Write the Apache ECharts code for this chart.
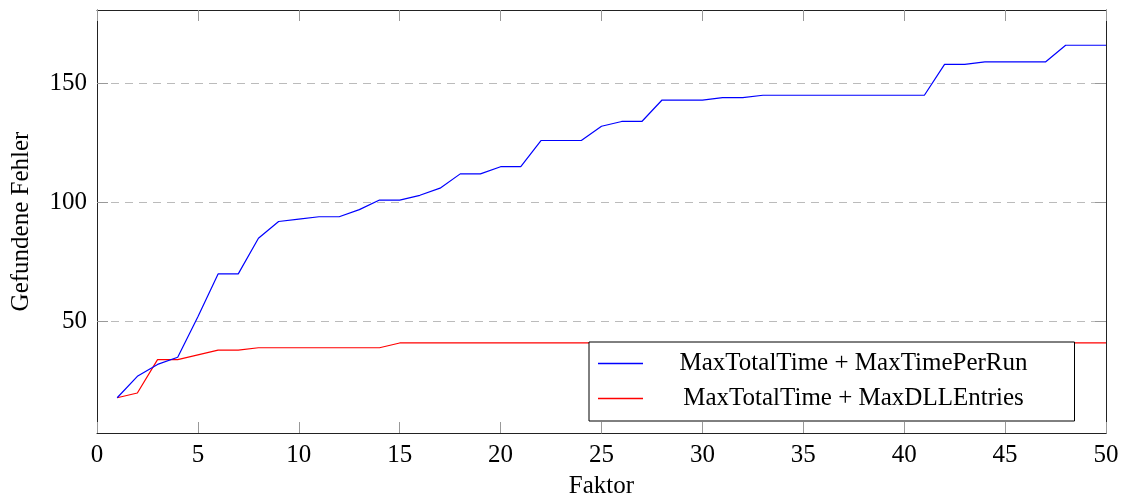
<!DOCTYPE html>
<html>
<head>
<meta charset="utf-8">
<script src="https://cdn.jsdelivr.net/npm/echarts@6/dist/echarts.min.js"></script>
<style>
  html, body { margin: 0; padding: 0; background: #fff; }
  #chart { width: 1123px; height: 502px; }
</style>
</head>
<body>
<div id="chart"></div>
<script>
// Data
const faktor = [1,2,3,4,5,6,7,8,9,10,11,12,13,14,15,16,17,18,19,20,21,22,23,24,25,26,27,28,29,30,31,32,33,34,35,36,37,38,39,40,41,42,43,44,45,46,47,48,49,50];
const timePerRun = [18,27,32,35,52,70,70,85,92,93,94,94,97,101,101,103,106,112,112,115,115,126,126,126,132,134,134,143,143,143,144,144,145,145,145,145,145,145,145,145,145,158,158,159,159,159,159,166,166,166];
const dllEntries = [18,20,34,34,36,38,38,39,39,39,39,39,39,39,41,41,41,41,41,41,41,41,41,41,41,41,41,41,41,41,41,41,41,41,41,41,41,41,41,41,41,41,41,41,41,41,41,41,41,41];
const yTicks = [50, 100, 150];
const seriesNames = ["MaxTotalTime + MaxTimePerRun", "MaxTotalTime + MaxDLLEntries"];

const FONT = "Liberation Serif";

// pgfplots style: enlarge y limits by 10% of the data range
const allY = timePerRun.concat(dllEntries);
const yLo = Math.min(...allY), yHi = Math.max(...allY);
const yMin = yLo - (yHi - yLo) * 0.1;
const yMax = yHi + (yHi - yLo) * 0.1;

function pairs(ys) {
  return faktor.map((x, i) => [x, ys[i]]);
}

const chart = echarts.init(document.getElementById("chart"), null, { renderer: "canvas" });

const tickStyle = { show: true, inside: true, length: 11, lineStyle: { color: "#999", width: 1 } };
const frameLine = { show: true, onZero: false, lineStyle: { color: "#222", width: 1 } };

chart.setOption({
  animation: false,
  grid: { left: 97, right: 17, top: 10, bottom: 69, outerBoundsMode: "none", containLabel: false },
  legend: {
    orient: "vertical",
    left: 589,
    top: 342,
    padding: [9, 47, 10, 9],
    itemGap: 10,
    itemWidth: 45,
    itemHeight: 1.5,
    icon: "rect",
    backgroundColor: "#fff",
    borderColor: "#000",
    borderWidth: 1,
    formatter: (name) => "{c|" + name + "}",
    textStyle: {
      fontFamily: FONT, fontSize: 25, color: "#000",
      rich: { c: { fontFamily: FONT, fontSize: 25, color: "#000", width: 411, align: "center" } }
    },
    data: seriesNames
  },
  xAxis: [
    {
      type: "value", min: 0, max: 50, interval: 5, position: "bottom",
      name: "Faktor", nameLocation: "middle", nameGap: 41,
      nameTextStyle: { fontFamily: FONT, fontSize: 25, color: "#000" },
      axisLine: frameLine, axisTick: tickStyle,
      axisLabel: { fontFamily: FONT, fontSize: 25, color: "#000", margin: 10 },
      splitLine: { show: false }
    },
    {
      type: "value", min: 0, max: 50, interval: 5, position: "top",
      axisLine: frameLine, axisTick: tickStyle,
      axisLabel: { show: false }, splitLine: { show: false }
    }
  ],
  yAxis: [
    {
      type: "value", min: yMin, max: yMax, position: "left",
      name: "Gefundene Fehler", nameLocation: "middle", nameGap: 63,
      nameTextStyle: { fontFamily: FONT, fontSize: 25, color: "#000" },
      axisLine: frameLine,
      axisTick: Object.assign({ customValues: yTicks }, tickStyle),
      axisLabel: { customValues: yTicks, fontFamily: FONT, fontSize: 25, color: "#000", margin: 10 },
      splitLine: { show: true, lineStyle: { color: "#bbb", width: 1, type: [8, 6] } }
    },
    {
      type: "value", min: yMin, max: yMax, position: "right",
      axisLine: frameLine,
      axisTick: Object.assign({ customValues: yTicks }, tickStyle),
      axisLabel: { show: false, customValues: yTicks },
      splitLine: { show: false }
    }
  ],
  series: [
    {
      name: seriesNames[0], type: "line", data: pairs(timePerRun),
      symbol: "none", lineStyle: { color: "#0000ff", width: 1.2 }, itemStyle: { color: "#0000ff" }, z: 3
    },
    {
      name: seriesNames[1], type: "line", data: pairs(dllEntries),
      symbol: "none", lineStyle: { color: "#ff0000", width: 1.2 }, itemStyle: { color: "#ff0000" }, z: 2
    }
  ]
});
</script>
</body>
</html>
